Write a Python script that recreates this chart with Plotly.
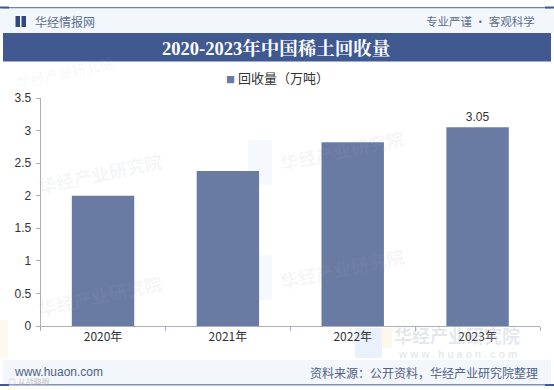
import plotly.graph_objects as go

W, H = 554, 390
categories = ["2020年", "2021年", "2022年", "2023年"]
values = [2.0, 2.38, 2.82, 3.05]
value_labels = ["", "", "", "3.05"]
y_ticks = [0, 0.5, 1, 1.5, 2, 2.5, 3, 3.5]
y_tick_labels = ["0", "0.5", "1", "1.5", "2", "2.5", "3", "3.5"]
series_name = "回收量（万吨）"
title = "2020-2023年中国稀土回收量"
brand = "华经情报网"
slogan = "专业严谨 • 客观科学"
source = "资料来源：公开资料，华经产业研究院整理"
site = "www.huaon.com"
wm = "华经产业研究院"

BAR = "#6a7ba3"

def px(x): return x / W
def py(y): return 1 - y / H

SANS = "Liberation Sans, Noto Sans CJK SC, sans-serif"
CJK = "Noto Sans CJK SC, sans-serif"
SERIF = "Liberation Serif, Noto Serif CJK SC, Noto Sans CJK SC, serif"
WM = "rgba(150,160,180,0.11)"

def rect(x0, y0, x1, y1, color, opacity=1):
    return dict(type="rect", xref="paper", yref="paper", x0=px(x0), x1=px(x1),
                y0=py(y0), y1=py(y1), fillcolor=color, opacity=opacity,
                line=dict(width=0), layer="below")

def text(x, y, s, size, color, family=CJK, anchor="center", angle=0, bold=False):
    return dict(xref="paper", yref="paper", x=px(x), y=py(y), text=f"<b>{s}</b>" if bold else s,
                showarrow=False, xanchor=anchor, yanchor="middle", textangle=angle,
                font=dict(size=size, color=color, family=family))

shapes = [
    rect(0, 8, 554, 33, "#f3f6fa"),
    rect(3, 7, 551, 8.2, "#6f83a6"),
    rect(3, 33, 551, 61.5, "#405a91"),
    rect(3, 360, 551, 384, "#f3f6fa"),
    rect(3, 384, 551, 385.5, "#7f91b0"),
    rect(0, 384, 9, 386, "#405a91"),
    rect(545, 384, 554, 386, "#405a91"),
    rect(0, 6.5, 9, 8.5, "#405a91"),
    rect(545, 6.5, 554, 8.5, "#405a91"),
    rect(15.5, 16, 20, 27, "#2f4a7d"),
    rect(21.5, 16, 26, 27, "#2f4a7d"),
    rect(248, 140, 272, 185, "#f2f6fc", 0.8),
    rect(248, 255, 272, 300, "#f2f6fc", 0.8),
    rect(355, 328, 382, 358, "#e6eef9", 0.8),
    rect(382, 328, 392, 348, "#fcf6e4", 0.8),
    rect(0, 320, 8, 358, "#fcf8ea", 0.8),
]

annotations = [
    text(33, 21, brand, 12, "#5c6f92", anchor="left"),
    text(537, 21, slogan, 11.5, "#5c6f92", anchor="right"),
    text(276, 48, title, 18.5, "#ffffff", family=SERIF, bold=True),
    text(277, 78, f'<span style="color:{BAR};font-size:9px">■</span> {series_name}', 13, "#333333"),
    text(100, 173, wm, 18, WM, angle=-12, bold=True),
    text(342, 150, wm, 18, WM, angle=-12, bold=True),
    text(100, 295, wm, 18, WM, angle=-12, bold=True),
    text(342, 268, wm, 18, WM, angle=-12, bold=True),
    text(65, 72, wm, 14, "rgba(150,160,180,0.07)", angle=-12, bold=True),
    text(457, 335, wm, 18, "rgba(150,160,180,0.25)", bold=True),
    text(457, 354, "w w w . h u a o n . c o m", 10.5, "rgba(150,160,180,0.25)", family=SANS, bold=True),
    text(12, 371.5, site, 12, "#4f6288", family=SANS, anchor="left"),
    text(540, 372, source, 12, "#4f6288", anchor="right"),
    text(6, 381, "◎ 从战略眼", 8, "rgba(190,190,190,0.85)", anchor="left"),
]

fig = go.Figure(go.Bar(
    x=categories, y=values, name=series_name, marker=dict(color=BAR, line=dict(width=0)),
    width=0.5, text=value_labels, textposition="outside", cliponaxis=False,
    textfont=dict(size=12, color="#333333", family=SANS), showlegend=False,
))

fig.update_layout(
    width=W, height=H, autosize=False, margin=dict(l=0, r=0, t=0, b=0, autoexpand=False),
    paper_bgcolor="#ffffff", plot_bgcolor="rgba(0,0,0,0)",
    shapes=shapes, annotations=annotations, bargap=0.5,
    xaxis=dict(domain=[px(40.6), px(540)], type="category", showgrid=False, zeroline=False,
               automargin=False, showline=True, linecolor="#aab0b8", linewidth=1, ticks="outside",
               ticklen=4, tickcolor="#aab0b8", tickson="boundaries",
               tickfont=dict(size=12, color="#333333", family=CJK)),
    yaxis=dict(domain=[py(326), py(98)], range=[0, 3.5], tickmode="array", tickvals=y_ticks,
               automargin=False, ticktext=y_tick_labels, showgrid=False, zeroline=False, showline=True,
               linecolor="#aab0b8", linewidth=1, ticks="outside", ticklen=4, tickcolor="#aab0b8",
               ticklabelstandoff=2, tickfont=dict(size=12, color="#333333", family=SANS)),
)

fig.write_html("out.html", config=dict(displayModeBar=False),
               post_script="document.body.style.margin='0';document.body.style.overflow='hidden';")
